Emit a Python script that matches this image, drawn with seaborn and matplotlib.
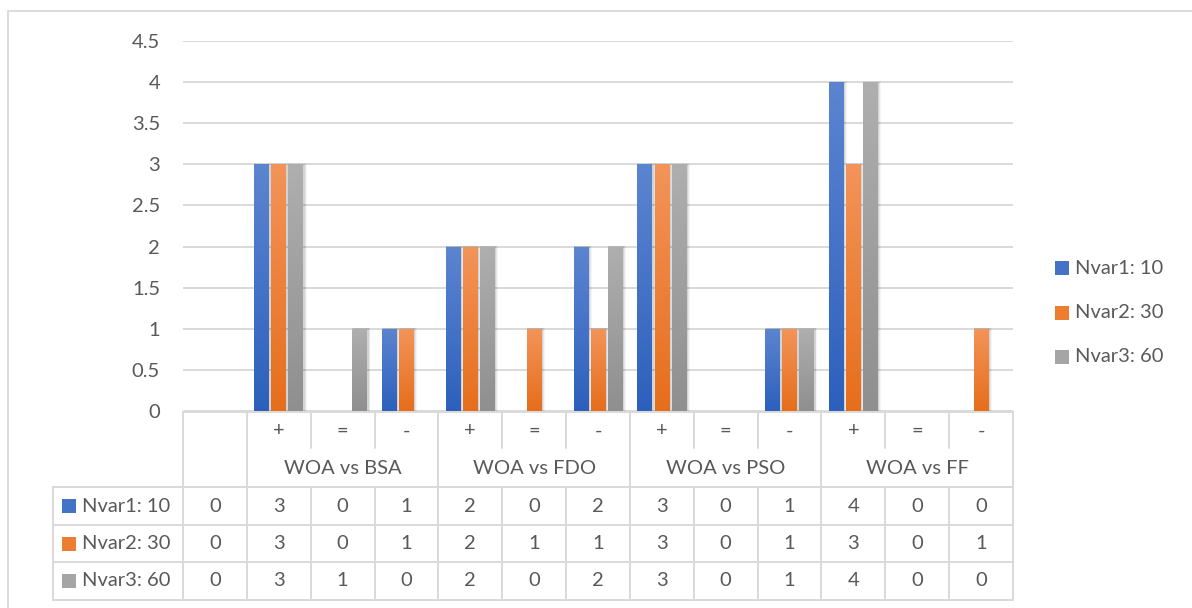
import numpy as np
import pandas as pd
import matplotlib
matplotlib.use("Agg")
import matplotlib.pyplot as plt
import seaborn as sns
import matplotlib.transforms as mtransforms
from matplotlib.patches import Rectangle
from matplotlib.lines import Line2D
from matplotlib.colors import LinearSegmentedColormap

# ---------------- data ----------------
groups = ["WOA vs BSA", "WOA vs FDO", "WOA vs PSO", "WOA vs FF"]
signs = ["+", "=", "-"]
series = ["Nvar1: 10", "Nvar2: 30", "Nvar3: 60"]
nvar1 = [0, 3, 0, 1, 2, 0, 2, 3, 0, 1, 4, 0, 0]
nvar2 = [0, 3, 0, 1, 2, 1, 1, 3, 0, 1, 3, 0, 1]
nvar3 = [0, 3, 1, 0, 2, 0, 2, 3, 0, 1, 4, 0, 0]
yticks = [0, 0.5, 1, 1.5, 2, 2.5, 3, 3.5, 4, 4.5]

colors = ["#4472C4", "#ED7D31", "#A5A5A5"]
top_colors = ["#5C85D0", "#F3945A", "#AFAFAF"]
bottom_colors = ["#2D60BC", "#E66E1B", "#8F8F8F"]
text_color = "#595959"
grid_color = "#D9D9D9"

cat_ids = ["blank"] + [f"{g} {s}" for g in groups for s in signs]
sign_labels = [""] + signs * len(groups)
values = [nvar1, nvar2, nvar3]

df = pd.DataFrame({
    "cat": cat_ids * len(series),
    "series": [s for s in series for _ in cat_ids],
    "value": [v for vals in values for v in vals],
})

# ---------------- figure ----------------
W, H = 1192, 608
sns.set_theme(style="white")
plt.rcParams["font.family"] = ["Lato", "DejaVu Sans"]
fig = plt.figure(figsize=(W / 100, H / 100), dpi=100)
fig.patch.set_facecolor("white")

def fx(px):
    return px / W

def fy(py):
    return 1 - py / H

ax = fig.add_axes([fx(183), fy(411), fx(1013) - fx(183), fy(41) - fy(411)])

sns.barplot(data=df, x="cat", y="value", hue="series", order=cat_ids,
            hue_order=series, palette=colors, width=0.8, gap=0.14,
            errorbar=None, legend=False, ax=ax, saturation=1)

ax.set_xlim(-0.5, len(cat_ids) - 0.5)
ax.set_ylim(0, 4.5)

# gradient fill for bars
grad = np.linspace(0, 1, 256).reshape(-1, 1)
for i, cont in enumerate(ax.containers):
    cmap = LinearSegmentedColormap.from_list(f"g{i}", [bottom_colors[i], top_colors[i]])
    for bar in cont:
        h = bar.get_height()
        if h <= 0:
            bar.set_visible(False)
            continue
        x, w = bar.get_x(), bar.get_width()
        # soft shadow
        for k, a in zip([3, 2, 1], [0.04, 0.06, 0.08]):
            dx = k * 0.0157
            dy = k * 0.0122
            ax.add_patch(Rectangle((x - dx * 0.3 + 0.012, 0), w + 2 * dx * 0.6, h + dy * 0.3,
                                   facecolor="black", alpha=a, lw=0, zorder=1.5))
        im = ax.imshow(grad, extent=[x, x + w, 0, h], origin="lower", aspect="auto",
                       cmap=cmap, zorder=2.1, interpolation="bilinear")
        im.set_clip_path(bar)
        bar.set_facecolor("none")
        bar.set_edgecolor("none")
        bar.set_zorder(2.2)

ax.set_xlim(-0.5, len(cat_ids) - 0.5)
ax.set_ylim(0, 4.5)

ax.set_yticks(yticks)
ax.set_yticklabels([f"{v:g}" for v in yticks], fontsize=14.5, color=text_color)
ax.tick_params(axis="y", length=0, pad=16.5)
ax.set_xticks([])
ax.set_xlabel("")
ax.set_ylabel("")
ax.yaxis.grid(True, color=grid_color, linewidth=1.4)
ax.set_axisbelow(True)
for sp in ax.spines.values():
    sp.set_visible(False)

# ---------------- data table ----------------
trans = mtransforms.blended_transform_factory(ax.transData, fig.transFigure)
lw = 1.4
n = len(cat_ids)
left_edge = -0.5
right_edge = n - 0.5

def hline(x0, x1, py, tr=trans):
    fig.add_artist(Line2D([x0, x1], [fy(py), fy(py)], transform=tr, color=grid_color, lw=lw))

def vline(x, py0, py1, tr=trans):
    fig.add_artist(Line2D([x, x], [fy(py0), fy(py1)], transform=tr, color=grid_color, lw=lw))

row_lines = [487, 525, 562, 600]
top_py, mid_py = 412, 448

# horizontal lines
hline(left_edge, right_edge, top_py)
# lines spanning into figure-left header column
x_hdr_left = ax.transData.inverted().transform((fx(53) * W, 0))[0]
for py in row_lines:
    hline(x_hdr_left, right_edge, py)
vline(x_hdr_left, row_lines[0], row_lines[-1])

# vertical lines
vline(left_edge, top_py, row_lines[-1])
for gi in range(len(groups)):
    start = 1 + gi * 3
    vline(start - 0.5, top_py, row_lines[-1])
    for j in range(1, 3):
        vline(start - 0.5 + j, top_py, mid_py)
        vline(start - 0.5 + j, row_lines[0], row_lines[-1])
vline(right_edge, top_py, row_lines[-1])

fs = 14.5
# sign row
for i, s in enumerate(sign_labels):
    if s:
        ax.text(i, fy(431), s, transform=trans, ha="center", va="center",
                fontsize=fs, color=text_color, clip_on=False)
# group row
for gi, g in enumerate(groups):
    ax.text(2 + gi * 3, fy(468), g, transform=trans, ha="center", va="center",
            fontsize=fs, color=text_color, clip_on=False)

# value rows
for r, (name, vals) in enumerate(zip(series, values)):
    cy = (row_lines[r] + row_lines[r + 1]) / 2
    for i, v in enumerate(vals):
        ax.text(i, fy(cy), f"{v:g}", transform=trans, ha="center", va="center",
                fontsize=fs, color=text_color, clip_on=False)
    fig.add_artist(Rectangle((fx(62), fy(cy + 7)), fx(14), 14 / H,
                             transform=fig.transFigure, facecolor=colors[r], lw=0))
    fig.text(fx(82), fy(cy), name, ha="left", va="center", fontsize=fs, color=text_color)

# ---------------- legend ----------------
leg_y = [268, 313, 357]
for r, name in enumerate(series):
    fig.add_artist(Rectangle((fx(1055), fy(leg_y[r] + 7)), fx(14), 14 / H,
                             transform=fig.transFigure, facecolor=colors[r], lw=0))
    fig.text(fx(1075), fy(leg_y[r]), name, ha="left", va="center", fontsize=fs, color=text_color)

# outer chart border
fig.add_artist(Rectangle((fx(8), fy(640)), fx(1200), 629 / H, transform=fig.transFigure,
                         facecolor="none", edgecolor=grid_color, lw=1.3))

fig.savefig("out.png", dpi=100, facecolor="white")
